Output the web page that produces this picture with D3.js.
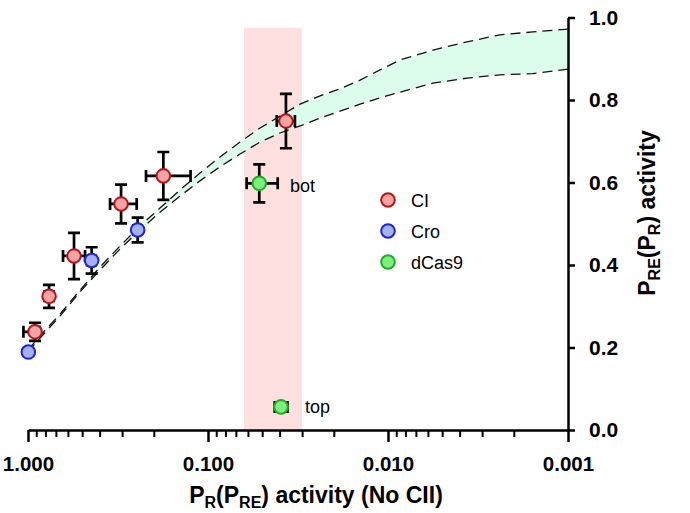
<!DOCTYPE html>
<html>
<head>
<meta charset="utf-8">
<script src="https://cdn.jsdelivr.net/npm/d3@7"></script>
<style>
  body { margin: 0; background: #fff; }
  svg { display: block; font-family: "Liberation Sans", Arial, sans-serif; }
</style>
</head>
<body>
<svg id="chart" width="690" height="513"></svg>
<script>
// CI points
var ciX = [0.914, 0.764, 0.555, 0.304, 0.177, 0.0369]
var ciXLo = [0.86, 0.72, 0.482, 0.249, 0.125, 0.0329]
var ciXHi = [1.06, 0.81, 0.639, 0.350, 0.221, 0.0415]
var ciY = [0.238, 0.324, 0.422, 0.548, 0.616, 0.749]
var ciYErr = [0.022, 0.028, 0.056, 0.047, 0.058, 0.066]

// Cro points
var croX = [0.996, 0.443, 0.246]
var croXLo = [0.99, 0.42, 0.235]
var croXHi = [1.0, 0.47, 0.26]
var croY = [0.189, 0.411, 0.485]
var croYErr = [0.008, 0.032, 0.030]

// dCas9 points
var casX = [0.0519, 0.0393]
var casXLo = [0.041, 0.0362]
var casXHi = [0.061, 0.0426]
var casY = [0.598, 0.056]
var casYErr = [0.046, 0.008]
var casNames = ["bot", "top"]

// model band (upper / lower dashed curves)
var bandX = [1.0, 0.858, 0.664, 0.514, 0.398, 0.308, 0.2385, 0.1848, 0.143, 0.1108, 0.0858, 0.0664, 0.0514,
	0.0398, 0.0308, 0.02385, 0.01848, 0.0143, 0.01108, 0.00858, 0.00562, 0.00364, 0.00239, 0.00157, 0.001]
var bandUpper = [0.194, 0.228, 0.281, 0.339, 0.395, 0.446, 0.495, 0.538, 0.582, 0.623, 0.662, 0.698, 0.732,
	0.761, 0.790, 0.810, 0.827, 0.848, 0.873, 0.897, 0.921, 0.941, 0.958, 0.965, 0.972]
var bandLower = [0.189, 0.223, 0.276, 0.335, 0.388, 0.439, 0.485, 0.528, 0.567, 0.604, 0.638, 0.669, 0.698,
	0.720, 0.737, 0.756, 0.773, 0.790, 0.805, 0.819, 0.841, 0.853, 0.861, 0.864, 0.875]

// shaded range
var shadeX = [0.063, 0.030]
var shadeTop = 0.975

var xMajor = [1, 0.1, 0.01, 0.001]
var yTicks = [0, 0.2, 0.4, 0.6, 0.8, 1.0]
var legendNames = ["CI", "Cro", "dCas9"]

var colors = {
	CI: { fill: "#f7a3a3", stroke: "#b3161b" },
	Cro: { fill: "#a4b2ee", stroke: "#1c22e0" },
	dCas9: { fill: "#7cf07e", stroke: "#1fae22" }
}

var svg = d3.select("#chart")

var x = d3.scaleLog().domain([1, 0.001]).range([28, 568])
var y = d3.scaleLinear().domain([0, 1]).range([430, 17.5])

// pink range
svg.append("rect")
	.attr("x", x(shadeX[0]))
	.attr("y", y(shadeTop))
	.attr("width", x(shadeX[1]) - x(shadeX[0]))
	.attr("height", y(0) - y(shadeTop))
	.attr("fill", "#fde0df")

// green band
var band = bandX.map(function (d, i) {
	return { x: d, hi: bandUpper[i], lo: bandLower[i] }
})

svg.append("path")
	.datum(band)
	.attr("fill", "#dcfcec")
	.attr("d", d3.area()
		.x(function (d) { return x(d.x) })
		.y0(function (d) { return y(d.lo) })
		.y1(function (d) { return y(d.hi) }))

;["hi", "lo"].forEach(function (k) {
	svg.append("path")
		.datum(band)
		.attr("fill", "none")
		.attr("stroke", "#111")
		.attr("stroke-width", 1.3)
		.attr("stroke-dasharray", "10,6")
		.attr("d", d3.line()
			.x(function (d) { return x(d.x) })
			.y(function (d) { return y(d[k]) }))
})

// points
function makePoints(name, xs, xl, xh, ys, ye) {
	return xs.map(function (d, i) {
		return { name: name, x: d, xlo: xl[i], xhi: xh[i], y: ys[i], ye: ye[i] }
	})
}
var points = makePoints("CI", ciX, ciXLo, ciXHi, ciY, ciYErr)
	.concat(makePoints("Cro", croX, croXLo, croXHi, croY, croYErr))
	.concat(makePoints("dCas9", casX, casXLo, casXHi, casY, casYErr))

var cap = 6
var err = svg.append("g")
	.attr("stroke", "#000")
	.attr("stroke-width", 2.7)
	.attr("fill", "none")

points.forEach(function (p) {
	var cx = x(p.x), cy = y(p.y)
	var y1 = y(p.y + p.ye), y2 = y(p.y - p.ye)
	var x1 = x(p.xlo), x2 = x(p.xhi)
	var path = "M" + cx + "," + y1 + "V" + y2 +
		"M" + (cx - cap) + "," + y1 + "H" + (cx + cap) +
		"M" + (cx - cap) + "," + y2 + "H" + (cx + cap) +
		"M" + x1 + "," + cy + "H" + x2 +
		"M" + x1 + "," + (cy - cap) + "V" + (cy + cap) +
		"M" + x2 + "," + (cy - cap) + "V" + (cy + cap)
	err.append("path").attr("d", path)
})

svg.append("g").selectAll("circle")
	.data(points)
	.enter()
	.append("circle")
	.attr("cx", function (d) { return x(d.x) })
	.attr("cy", function (d) { return y(d.y) })
	.attr("r", 6.8)
	.attr("fill", function (d) { return colors[d.name].fill })
	.attr("stroke", function (d) { return colors[d.name].stroke })
	.attr("stroke-width", 2)

// bot / top labels
svg.append("text").attr("x", 290).attr("y", 191.5)
	.attr("font-size", 18).text(casNames[0])
svg.append("text").attr("x", 305).attr("y", 413)
	.attr("font-size", 18).text(casNames[1])

// legend
var leg = svg.append("g")
legendNames.forEach(function (n, i) {
	var ly = 200 + i * 31
	leg.append("circle")
		.attr("cx", 388).attr("cy", ly).attr("r", 6.8)
		.attr("fill", colors[n].fill)
		.attr("stroke", colors[n].stroke)
		.attr("stroke-width", 2)
	leg.append("text")
		.attr("x", 411).attr("y", ly + 6.5)
		.attr("font-size", 18)
		.text(n)
})

// x axis
var minor = []
xMajor.slice(0, 3).forEach(function (m) {
	for (var k = 2; k <= 9; k++) minor.push(m * k / 10)
})

svg.append("g")
	.attr("transform", "translate(0,430)")
	.call(d3.axisBottom(x).tickValues(minor).tickSize(7).tickSizeOuter(0).tickFormat(""))
	.call(function (g) { g.select(".domain").remove() })
	.call(function (g) { g.selectAll("line").attr("stroke-width", 2) })

svg.append("g")
	.attr("transform", "translate(0,430)")
	.call(d3.axisBottom(x).tickValues(xMajor).tickSize(12).tickSizeOuter(0).tickPadding(14)
		.tickFormat(d3.format(".3f")))
	.call(function (g) {
		g.select(".domain").attr("stroke-width", 2.5)
		g.selectAll("line").attr("stroke-width", 2.5)
		g.selectAll("text").attr("font-size", 20.5).attr("font-weight", "bold")
			.attr("font-family", "Liberation Sans, Arial, sans-serif").attr("fill", "#000")
	})

// y axis
svg.append("g")
	.attr("transform", "translate(568,0)")
	.call(d3.axisRight(y).tickValues(yTicks).tickSize(7).tickSizeOuter(0).tickPadding(14)
		.tickFormat(d3.format(".1f")))
	.call(function (g) {
		g.select(".domain").attr("stroke-width", 2.5)
		g.selectAll("line").attr("stroke-width", 2.5)
		g.selectAll("text").attr("font-size", 21).attr("font-weight", "bold")
			.attr("font-family", "Liberation Sans, Arial, sans-serif").attr("fill", "#000")
	})

// axis titles
var xt = svg.append("text")
	.attr("x", 316).attr("y", 503)
	.attr("text-anchor", "middle")
	.attr("font-size", 23).attr("font-weight", "bold")
xt.append("tspan").text("P")
xt.append("tspan").attr("font-size", 16).attr("dy", 5).text("R")
xt.append("tspan").attr("dy", -5).text("(P")
xt.append("tspan").attr("font-size", 16).attr("dy", 5).text("RE")
xt.append("tspan").attr("dy", -5).text(") activity (No CII)")

var yt = svg.append("text")
	.attr("transform", "translate(655,213) rotate(-90)")
	.attr("text-anchor", "middle")
	.attr("font-size", 23).attr("font-weight", "bold")
yt.append("tspan").text("P")
yt.append("tspan").attr("font-size", 16).attr("dy", 5).text("RE")
yt.append("tspan").attr("dy", -5).text("(P")
yt.append("tspan").attr("font-size", 16).attr("dy", 5).text("R")
yt.append("tspan").attr("dy", -5).text(") activity")
</script>
</body>
</html>
